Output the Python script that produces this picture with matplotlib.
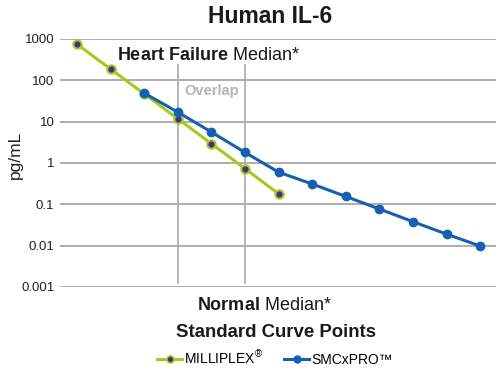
import matplotlib
matplotlib.use('Agg')
import matplotlib.pyplot as plt
from matplotlib.lines import Line2D

plt.rcParams['font.family'] = ['Liberation Sans', 'DejaVu Sans']
plt.rcParams['mathtext.fontset'] = 'custom'
plt.rcParams['mathtext.rm'] = 'Liberation Sans'
plt.rcParams['mathtext.bf'] = 'Liberation Sans:bold'

# standard curve points (pg/mL)
milliplex_x = [0, 1, 2, 3, 4, 5, 6]
milliplex_y = [750, 187, 47, 11.7, 2.93, 0.73, 0.18]
smcxpro_x = [2, 3, 4, 5, 6, 7, 8, 9, 10, 11, 12]
smcxpro_y = [49, 17, 5.6, 1.8, 0.6, 0.31, 0.155, 0.077, 0.038, 0.019, 0.0098]
overlap_bounds = [3, 5]
y_ticks = [0.001, 0.01, 0.1, 1, 10, 100, 1000]
y_ticklabels = ['0.001', '0.01', '0.1', '1', '10', '100', '1000']

GREEN = '#a6c91d'
PURPLE = '#4b2a8c'
BLUE = '#1560b0'
GRID = '#a0a0a0'
INK = '#1a1a1a'

fig = plt.figure(figsize=(5, 3.72), dpi=100)
ax = fig.add_axes([0.12, 0.2285, 0.872, 0.6667])

ax.set_yscale('log')
ax.set_ylim(0.001, 1000)
ax.set_xlim(-0.506, 12.47)
ax.set_yticks(y_ticks)
ax.set_yticklabels(y_ticklabels)
ax.minorticks_off()
ax.set_xticks([])
ax.tick_params(axis='y', length=0, pad=4, labelsize=9.5, labelcolor='#222222')
for s in ax.spines.values():
    s.set_visible(False)
for yv in y_ticks:
    ax.axhline(yv, color=GRID, lw=1.2, zorder=1)

for xv in overlap_bounds:
    ax.axvline(xv, ymin=0.016, ymax=0.895, color='#b0b0b0', lw=1.3, zorder=1)

ax.plot(milliplex_x, milliplex_y, color=GREEN, lw=2.2, marker='o', ms=6,
        mfc=PURPLE, mec=GREEN, mew=1.5, zorder=3)
ax.plot(smcxpro_x, smcxpro_y, color=BLUE, lw=2.2, marker='o', ms=6,
        mfc=BLUE, mec=BLUE, zorder=4)

fig.text(0.03, 0.583, 'pg/mL', fontsize=12.5, color='#222222', rotation=90,
         ha='center', va='center')

fig.text(0.234, 0.84, r'$\bf{Heart\ Failure}$ Median*', fontsize=13,
         color=INK, va='baseline')
fig.text(0.394, 0.166, r'$\bf{Normal}$ Median*', fontsize=13,
         color=INK, va='baseline')

ax.text(4, 55, 'Overlap', fontsize=10.5, fontweight='bold', color='#b4b4b4',
        ha='center', va='center')

fig.text(0.54, 0.955, 'Human IL-6', fontsize=16.5, fontweight='bold',
         color=INK, ha='center', va='center')
fig.text(0.551, 0.107, 'Standard Curve Points', fontsize=13.4, fontweight='bold',
         color=INK, ha='center', va='center')

handles = [
    Line2D([], [], color=GREEN, lw=2.2, marker='o', ms=5, mfc=PURPLE, mec=GREEN, mew=1.2),
    Line2D([], [], color=BLUE, lw=2.2, marker='o', ms=5, mfc=BLUE, mec=BLUE),
]
fig.legend(handles, ['MILLIPLEX$^{®}$', 'SMCxPRO™'], loc='center',
           bbox_to_anchor=(0.55, 0.038), ncol=2, frameon=False, fontsize=10,
           handlelength=1.8, handletextpad=0.15, columnspacing=1.5)

fig.savefig('out.png', dpi=100)
